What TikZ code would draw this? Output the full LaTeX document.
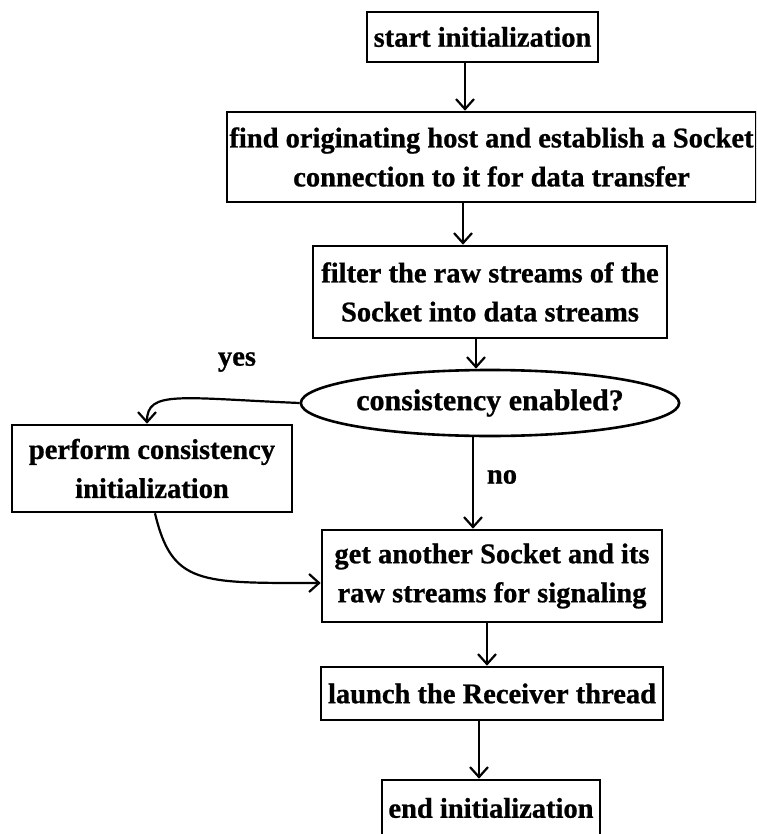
\documentclass[tikz,border=0pt]{standalone}
\usepackage{fontspec}
\setmainfont{Liberation Serif}[BoldFeatures={FakeBold=0.8}]
\usetikzlibrary{shapes.geometric,arrows.meta}
\begin{document}
\begin{tikzpicture}[x=1pt,y=-1pt,
  every node/.style={font=\bfseries\fontsize{28.5}{39}\selectfont, inner sep=0pt},
  box/.style={draw, line width=2.6pt, align=center},
  decision/.style={draw, ellipse, line width=2.6pt},
  flow/.style={line width=2.2pt, -{Straight Barb[length=10pt,width=18pt,line width=2.2pt]}}]

% page frame
\clip (0,0) rectangle (756,834);
\fill[white] (0,0) rectangle (756,834);

% process steps
\node[box, minimum width=231pt, minimum height=50pt] (start) at (482.5,37) {start initialization};
\node[box, minimum width=529pt, minimum height=90pt] (host) at (491.5,157)
  {find originating host and establish a Socket\\connection to it for data transfer};
\node[box, minimum width=354pt, minimum height=92pt] (filter) at (490,292)
  {filter the raw streams of the\\Socket into data streams};
\node[decision, minimum width=355pt, minimum height=66pt] (dec) at (490,403)
  {\fontsize{30}{39}\selectfont consistency enabled?};
\node[box, minimum width=280pt, minimum height=87pt] (perform) at (152,468.5)
  {perform consistency\\initialization};
\node[box, minimum width=340pt, minimum height=92pt] (get) at (492,576)
  {get another Socket and its\\raw streams for signaling};
\node[box, minimum width=342pt, minimum height=53pt] (launch) at (492,693.5) {launch the Receiver thread};
\node[box, minimum width=218pt, minimum height=56pt] (end) at (491,808) {end initialization};

% branch labels
\node (yes) at (237,362) {yes};
\node (no) at (502,477) {no};

% connectors
\draw[flow] ([xshift=-17.5pt]start.south) -- ([xshift=-17.5pt]start.south |- host.north);
\draw[flow] ([xshift=-28.5pt]host.south) -- ([xshift=-28.5pt]host.south |- filter.north);
\draw[flow] ([xshift=-14pt]filter.south) -- ([xshift=-14pt]filter.south |- dec.north);
\draw[flow] (dec.west) .. controls (180,398) and (147,390) .. ([xshift=-5pt]perform.north);
\draw[flow] ([xshift=-17pt]dec.south) -- ([xshift=-17pt]dec.south |- get.north);
\draw[flow] ([xshift=3pt]perform.south) .. controls (172,585) and (200,583) .. ([yshift=-7pt]get.west);
\draw[flow] ([xshift=-5pt]get.south) -- ([xshift=-5pt]get.south |- launch.north);
\draw[flow] ([xshift=-13pt]launch.south) -- ([xshift=-13pt]launch.south |- end.north);
\end{tikzpicture}
\end{document}
